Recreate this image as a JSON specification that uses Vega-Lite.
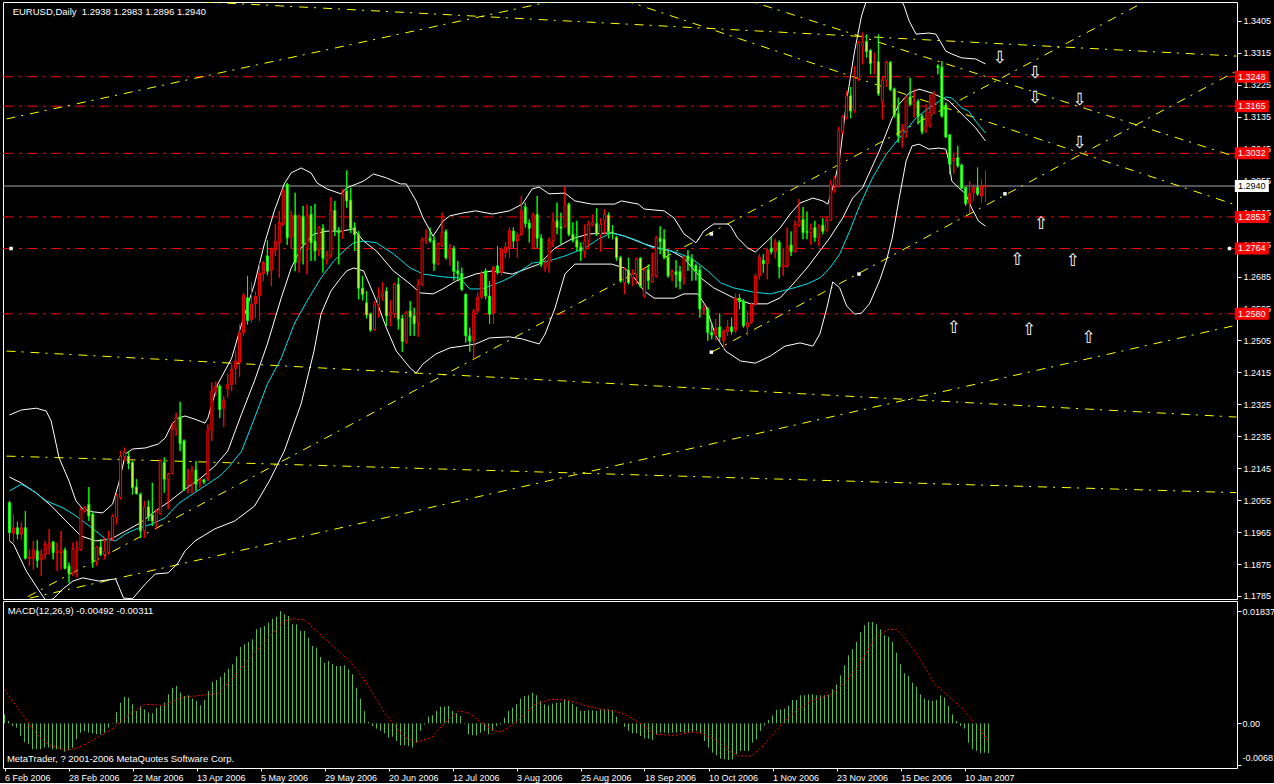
{
"$schema":"https://vega.github.io/schema/vega-lite/v6.json",
"background":"#000000",
"padding":{"left":2,"top":1,"right":0,"bottom":0},
"spacing":2,
"bounds":"flush",
"config":{
"view":{"stroke":"#ffffff","strokeWidth":1},
"text":{"font":"Liberation Sans","fontSize":9.5,"color":"#ffffff"}
},
"datasets":{
"bars":[
{"i":0,"o":1.2048,"h":1.2053,"l":1.1940,"c":1.1963,"m":0.00147},
{"i":1,"o":1.1961,"h":1.2015,"l":1.1935,"c":1.1977,"m":0.00038},
{"i":2,"o":1.1977,"h":1.1994,"l":1.1945,"c":1.1959,"m":-0.00044},
{"i":3,"o":1.1959,"h":1.1994,"l":1.1945,"c":1.1977,"m":-0.00071},
{"i":4,"o":1.1977,"h":1.2024,"l":1.1888,"c":1.1891,"m":-0.00207},
{"i":5,"o":1.1891,"h":1.1916,"l":1.1869,"c":1.1895,"m":-0.00305},
{"i":6,"o":1.1891,"h":1.1940,"l":1.1860,"c":1.1915,"m":-0.00344},
{"i":7,"o":1.1912,"h":1.1942,"l":1.1865,"c":1.1885,"m":-0.00425},
{"i":8,"o":1.1887,"h":1.1916,"l":1.1841,"c":1.1902,"m":-0.00425},
{"i":9,"o":1.1902,"h":1.1940,"l":1.1888,"c":1.1930,"m":-0.00425},
{"i":10,"o":1.1923,"h":1.1973,"l":1.1902,"c":1.1934,"m":-0.00398},
{"i":11,"o":1.1937,"h":1.1940,"l":1.1888,"c":1.1907,"m":-0.00398},
{"i":12,"o":1.1907,"h":1.1935,"l":1.1855,"c":1.1912,"m":-0.00425},
{"i":13,"o":1.1907,"h":1.1968,"l":1.1860,"c":1.1915,"m":-0.00425},
{"i":14,"o":1.1914,"h":1.1921,"l":1.1860,"c":1.1863,"m":-0.00425},
{"i":15,"o":1.1869,"h":1.1879,"l":1.1822,"c":1.1848,"m":-0.00464},
{"i":16,"o":1.1848,"h":1.1935,"l":1.1841,"c":1.1916,"m":-0.00436},
{"i":17,"o":1.1915,"h":1.1940,"l":1.1837,"c":1.1921,"m":-0.00398},
{"i":18,"o":1.1916,"h":1.2034,"l":1.1912,"c":1.2029,"m":-0.00262},
{"i":19,"o":1.2024,"h":1.2038,"l":1.2020,"c":1.2034,"m":-0.00153},
{"i":20,"o":1.2043,"h":1.2092,"l":1.1996,"c":1.2010,"m":-0.00125},
{"i":21,"o":1.2015,"h":1.2020,"l":1.1865,"c":1.1883,"m":-0.00153},
{"i":22,"o":1.1881,"h":1.1926,"l":1.1869,"c":1.1923,"m":-0.00164},
{"i":23,"o":1.1923,"h":1.1945,"l":1.1898,"c":1.1902,"m":-0.00180},
{"i":24,"o":1.1902,"h":1.1949,"l":1.1888,"c":1.1912,"m":-0.00180},
{"i":25,"o":1.1907,"h":1.1968,"l":1.1902,"c":1.1947,"m":-0.00153},
{"i":26,"o":1.1949,"h":1.2015,"l":1.1940,"c":1.2010,"m":-0.00071},
{"i":27,"o":1.2006,"h":1.2073,"l":1.1987,"c":1.2067,"m":0.00005},
{"i":28,"o":1.2062,"h":1.2193,"l":1.2057,"c":1.2179,"m":0.00185},
{"i":29,"o":1.2177,"h":1.2203,"l":1.2165,"c":1.2189,"m":0.00338},
{"i":30,"o":1.2179,"h":1.2193,"l":1.2142,"c":1.2158,"m":0.00431},
{"i":31,"o":1.2161,"h":1.2165,"l":1.2071,"c":1.2090,"m":0.00420},
{"i":32,"o":1.2092,"h":1.2114,"l":1.2071,"c":1.2073,"m":0.00311},
{"i":33,"o":1.2071,"h":1.2076,"l":1.1949,"c":1.1968,"m":0.00202},
{"i":34,"o":1.1968,"h":1.2053,"l":1.1949,"c":1.2036,"m":0.00284},
{"i":35,"o":1.2036,"h":1.2054,"l":1.1996,"c":1.2007,"m":0.00229},
{"i":36,"o":1.2013,"h":1.2104,"l":1.1982,"c":1.1996,"m":0.00174},
{"i":37,"o":1.1996,"h":1.2029,"l":1.1973,"c":1.2022,"m":0.00164},
{"i":38,"o":1.2017,"h":1.2170,"l":1.2015,"c":1.2165,"m":0.00256},
{"i":39,"o":1.2161,"h":1.2175,"l":1.2076,"c":1.2114,"m":0.00284},
{"i":40,"o":1.2114,"h":1.2132,"l":1.2029,"c":1.2128,"m":0.00338},
{"i":41,"o":1.2130,"h":1.2273,"l":1.2128,"c":1.2254,"m":0.00474},
{"i":42,"o":1.2254,"h":1.2301,"l":1.2236,"c":1.2287,"m":0.00583},
{"i":43,"o":1.2289,"h":1.2332,"l":1.2193,"c":1.2214,"m":0.00611},
{"i":44,"o":1.2222,"h":1.2226,"l":1.2081,"c":1.2085,"m":0.00502},
{"i":45,"o":1.2100,"h":1.2143,"l":1.2075,"c":1.2112,"m":0.00447},
{"i":46,"o":1.2100,"h":1.2151,"l":1.2075,"c":1.2137,"m":0.00458},
{"i":47,"o":1.2140,"h":1.2165,"l":1.2081,"c":1.2100,"m":0.00404},
{"i":48,"o":1.2106,"h":1.2117,"l":1.2090,"c":1.2112,"m":0.00365},
{"i":49,"o":1.2112,"h":1.2115,"l":1.2100,"c":1.2106,"m":0.00294},
{"i":50,"o":1.2115,"h":1.2269,"l":1.2109,"c":1.2253,"m":0.00382},
{"i":51,"o":1.2252,"h":1.2386,"l":1.2222,"c":1.2362,"m":0.00529},
{"i":52,"o":1.2362,"h":1.2389,"l":1.2348,"c":1.2374,"m":0.00676},
{"i":53,"o":1.2376,"h":1.2381,"l":1.2287,"c":1.2310,"m":0.00709},
{"i":54,"o":1.2314,"h":1.2348,"l":1.2261,"c":1.2336,"m":0.00763},
{"i":55,"o":1.2368,"h":1.2411,"l":1.2344,"c":1.2381,"m":0.00829},
{"i":56,"o":1.2381,"h":1.2438,"l":1.2362,"c":1.2423,"m":0.00894},
{"i":57,"o":1.2426,"h":1.2475,"l":1.2381,"c":1.2447,"m":0.00965},
{"i":58,"o":1.2442,"h":1.2550,"l":1.2402,"c":1.2527,"m":0.01091},
{"i":59,"o":1.2527,"h":1.2639,"l":1.2517,"c":1.2633,"m":0.01249},
{"i":60,"o":1.2625,"h":1.2686,"l":1.2550,"c":1.2561,"m":0.01292},
{"i":61,"o":1.2564,"h":1.2668,"l":1.2555,"c":1.2607,"m":0.01331},
{"i":62,"o":1.2608,"h":1.2644,"l":1.2569,"c":1.2629,"m":0.01374},
{"i":63,"o":1.2630,"h":1.2723,"l":1.2560,"c":1.2695,"m":0.01538},
{"i":64,"o":1.2693,"h":1.2729,"l":1.2672,"c":1.2725,"m":0.01565},
{"i":65,"o":1.2743,"h":1.2787,"l":1.2689,"c":1.2700,"m":0.01592},
{"i":66,"o":1.2702,"h":1.2766,"l":1.2658,"c":1.2761,"m":0.01647},
{"i":67,"o":1.2759,"h":1.2832,"l":1.2743,"c":1.2783,"m":0.01712},
{"i":68,"o":1.2780,"h":1.2870,"l":1.2682,"c":1.2837,"m":0.01745},
{"i":69,"o":1.2832,"h":1.2935,"l":1.2827,"c":1.2928,"m":0.01837},
{"i":70,"o":1.2945,"h":1.2949,"l":1.2774,"c":1.2794,"m":0.01783},
{"i":71,"o":1.2796,"h":1.2870,"l":1.2766,"c":1.2858,"m":0.01756},
{"i":72,"o":1.2858,"h":1.2921,"l":1.2700,"c":1.2724,"m":0.01620},
{"i":73,"o":1.2724,"h":1.2860,"l":1.2696,"c":1.2855,"m":0.01620},
{"i":74,"o":1.2855,"h":1.2884,"l":1.2719,"c":1.2776,"m":0.01511},
{"i":75,"o":1.2761,"h":1.2888,"l":1.2691,"c":1.2858,"m":0.01511},
{"i":76,"o":1.2860,"h":1.2884,"l":1.2729,"c":1.2780,"m":0.01401},
{"i":77,"o":1.2785,"h":1.2890,"l":1.2729,"c":1.2757,"m":0.01265},
{"i":78,"o":1.2759,"h":1.2827,"l":1.2743,"c":1.2824,"m":0.01238},
{"i":79,"o":1.2821,"h":1.2832,"l":1.2696,"c":1.2736,"m":0.01085},
{"i":80,"o":1.2731,"h":1.2757,"l":1.2719,"c":1.2746,"m":0.00992},
{"i":81,"o":1.2746,"h":1.2909,"l":1.2738,"c":1.2871,"m":0.01020},
{"i":82,"o":1.2871,"h":1.2898,"l":1.2799,"c":1.2815,"m":0.00965},
{"i":83,"o":1.2813,"h":1.2824,"l":1.2719,"c":1.2808,"m":0.00938},
{"i":84,"o":1.2813,"h":1.2931,"l":1.2792,"c":1.2916,"m":0.00938},
{"i":85,"o":1.2926,"h":1.2984,"l":1.2879,"c":1.2898,"m":0.00949},
{"i":86,"o":1.2900,"h":1.2935,"l":1.2808,"c":1.2821,"m":0.00883},
{"i":87,"o":1.2823,"h":1.2837,"l":1.2757,"c":1.2802,"m":0.00802},
{"i":88,"o":1.2804,"h":1.2813,"l":1.2621,"c":1.2652,"m":0.00583},
{"i":89,"o":1.2652,"h":1.2687,"l":1.2618,"c":1.2635,"m":0.00404},
{"i":90,"o":1.2611,"h":1.2644,"l":1.2567,"c":1.2577,"m":0.00202},
{"i":91,"o":1.2579,"h":1.2583,"l":1.2530,"c":1.2534,"m":0.00022},
{"i":92,"o":1.2536,"h":1.2616,"l":1.2532,"c":1.2605,"m":-0.00044},
{"i":93,"o":1.2605,"h":1.2654,"l":1.2569,"c":1.2627,"m":-0.00087},
{"i":94,"o":1.2630,"h":1.2668,"l":1.2616,"c":1.2637,"m":-0.00125},
{"i":95,"o":1.2644,"h":1.2654,"l":1.2546,"c":1.2574,"m":-0.00164},
{"i":96,"o":1.2574,"h":1.2618,"l":1.2546,"c":1.2583,"m":-0.00234},
{"i":97,"o":1.2579,"h":1.2668,"l":1.2569,"c":1.2663,"m":-0.00218},
{"i":98,"o":1.2663,"h":1.2682,"l":1.2536,"c":1.2565,"m":-0.00289},
{"i":99,"o":1.2567,"h":1.2577,"l":1.2473,"c":1.2502,"m":-0.00360},
{"i":100,"o":1.2503,"h":1.2588,"l":1.2496,"c":1.2583,"m":-0.00360},
{"i":101,"o":1.2588,"h":1.2616,"l":1.2518,"c":1.2571,"m":-0.00371},
{"i":102,"o":1.2574,"h":1.2597,"l":1.2518,"c":1.2552,"m":-0.00398},
{"i":103,"o":1.2555,"h":1.2677,"l":1.2515,"c":1.2663,"m":-0.00316},
{"i":104,"o":1.2663,"h":1.2795,"l":1.2658,"c":1.2787,"m":-0.00125},
{"i":105,"o":1.2786,"h":1.2818,"l":1.2776,"c":1.2792,"m":-0.00020},
{"i":106,"o":1.2793,"h":1.2823,"l":1.2781,"c":1.2786,"m":0.00109},
{"i":107,"o":1.2787,"h":1.2799,"l":1.2701,"c":1.2721,"m":0.00131},
{"i":108,"o":1.2721,"h":1.2781,"l":1.2718,"c":1.2776,"m":0.00202},
{"i":109,"o":1.2771,"h":1.2865,"l":1.2768,"c":1.2809,"m":0.00273},
{"i":110,"o":1.2812,"h":1.2818,"l":1.2733,"c":1.2738,"m":0.00273},
{"i":111,"o":1.2738,"h":1.2776,"l":1.2715,"c":1.2764,"m":0.00284},
{"i":112,"o":1.2764,"h":1.2771,"l":1.2674,"c":1.2699,"m":0.00202},
{"i":113,"o":1.2701,"h":1.2729,"l":1.2674,"c":1.2693,"m":0.00164},
{"i":114,"o":1.2693,"h":1.2710,"l":1.2644,"c":1.2649,"m":0.00120},
{"i":115,"o":1.2635,"h":1.2637,"l":1.2499,"c":1.2518,"m":-0.00010},
{"i":116,"o":1.2518,"h":1.2541,"l":1.2473,"c":1.2503,"m":-0.00180},
{"i":117,"o":1.2505,"h":1.2593,"l":1.2455,"c":1.2588,"m":-0.00196},
{"i":118,"o":1.2588,"h":1.2640,"l":1.2583,"c":1.2627,"m":-0.00196},
{"i":119,"o":1.2627,"h":1.2701,"l":1.2621,"c":1.2693,"m":-0.00153},
{"i":120,"o":1.2701,"h":1.2708,"l":1.2621,"c":1.2630,"m":-0.00125},
{"i":121,"o":1.2630,"h":1.2672,"l":1.2552,"c":1.2579,"m":-0.00180},
{"i":122,"o":1.2581,"h":1.2715,"l":1.2552,"c":1.2712,"m":-0.00125},
{"i":123,"o":1.2715,"h":1.2771,"l":1.2691,"c":1.2696,"m":-0.00044},
{"i":124,"o":1.2696,"h":1.2766,"l":1.2687,"c":1.2762,"m":-0.00020},
{"i":125,"o":1.2752,"h":1.2781,"l":1.2738,"c":1.2768,"m":0.00093},
{"i":126,"o":1.2764,"h":1.2823,"l":1.2738,"c":1.2815,"m":0.00202},
{"i":127,"o":1.2813,"h":1.2823,"l":1.2766,"c":1.2785,"m":0.00256},
{"i":128,"o":1.2785,"h":1.2809,"l":1.2738,"c":1.2802,"m":0.00311},
{"i":129,"o":1.2802,"h":1.2912,"l":1.2799,"c":1.2872,"m":0.00404},
{"i":130,"o":1.2881,"h":1.2893,"l":1.2823,"c":1.2834,"m":0.00447},
{"i":131,"o":1.2836,"h":1.2846,"l":1.2781,"c":1.2821,"m":0.00458},
{"i":132,"o":1.2766,"h":1.2865,"l":1.2762,"c":1.2860,"m":0.00502},
{"i":133,"o":1.2860,"h":1.2912,"l":1.2766,"c":1.2793,"m":0.00458},
{"i":134,"o":1.2793,"h":1.2804,"l":1.2712,"c":1.2719,"m":0.00365},
{"i":135,"o":1.2712,"h":1.2734,"l":1.2699,"c":1.2724,"m":0.00311},
{"i":136,"o":1.2724,"h":1.2795,"l":1.2696,"c":1.2785,"m":0.00294},
{"i":137,"o":1.2785,"h":1.2865,"l":1.2768,"c":1.2842,"m":0.00322},
{"i":138,"o":1.2842,"h":1.2893,"l":1.2804,"c":1.2823,"m":0.00338},
{"i":139,"o":1.2825,"h":1.2865,"l":1.2776,"c":1.2821,"m":0.00338},
{"i":140,"o":1.2825,"h":1.2940,"l":1.2823,"c":1.2887,"m":0.00392},
{"i":141,"o":1.2889,"h":1.2893,"l":1.2799,"c":1.2804,"m":0.00365},
{"i":142,"o":1.2804,"h":1.2837,"l":1.2781,"c":1.2787,"m":0.00322},
{"i":143,"o":1.2787,"h":1.2842,"l":1.2757,"c":1.2768,"m":0.00273},
{"i":144,"o":1.2768,"h":1.2781,"l":1.2729,"c":1.2757,"m":0.00202},
{"i":145,"o":1.2755,"h":1.2832,"l":1.2738,"c":1.2785,"m":0.00202},
{"i":146,"o":1.2785,"h":1.2842,"l":1.2762,"c":1.2832,"m":0.00213},
{"i":147,"o":1.2830,"h":1.2860,"l":1.2827,"c":1.2837,"m":0.00213},
{"i":148,"o":1.2834,"h":1.2877,"l":1.2799,"c":1.2804,"m":0.00202},
{"i":149,"o":1.2802,"h":1.2849,"l":1.2755,"c":1.2832,"m":0.00229},
{"i":150,"o":1.2842,"h":1.2874,"l":1.2804,"c":1.2860,"m":0.00229},
{"i":151,"o":1.2858,"h":1.2865,"l":1.2793,"c":1.2811,"m":0.00229},
{"i":152,"o":1.2811,"h":1.2830,"l":1.2790,"c":1.2806,"m":0.00213},
{"i":153,"o":1.2795,"h":1.2799,"l":1.2729,"c":1.2738,"m":0.00109},
{"i":154,"o":1.2738,"h":1.2743,"l":1.2668,"c":1.2672,"m":-0.00005},
{"i":155,"o":1.2668,"h":1.2710,"l":1.2635,"c":1.2705,"m":-0.00060},
{"i":156,"o":1.2703,"h":1.2738,"l":1.2663,"c":1.2668,"m":-0.00125},
{"i":157,"o":1.2682,"h":1.2705,"l":1.2658,"c":1.2691,"m":-0.00164},
{"i":158,"o":1.2691,"h":1.2738,"l":1.2663,"c":1.2734,"m":-0.00164},
{"i":159,"o":1.2736,"h":1.2740,"l":1.2654,"c":1.2658,"m":-0.00207},
{"i":160,"o":1.2630,"h":1.2710,"l":1.2626,"c":1.2703,"m":-0.00251},
{"i":161,"o":1.2705,"h":1.2719,"l":1.2649,"c":1.2674,"m":-0.00251},
{"i":162,"o":1.2671,"h":1.2752,"l":1.2668,"c":1.2687,"m":-0.00273},
{"i":163,"o":1.2687,"h":1.2799,"l":1.2682,"c":1.2793,"m":-0.00180},
{"i":164,"o":1.2793,"h":1.2827,"l":1.2748,"c":1.2783,"m":-0.00153},
{"i":165,"o":1.2790,"h":1.2818,"l":1.2734,"c":1.2740,"m":-0.00153},
{"i":166,"o":1.2740,"h":1.2757,"l":1.2682,"c":1.2687,"m":-0.00164},
{"i":167,"o":1.2687,"h":1.2705,"l":1.2672,"c":1.2699,"m":-0.00153},
{"i":168,"o":1.2699,"h":1.2731,"l":1.2654,"c":1.2690,"m":-0.00153},
{"i":169,"o":1.2699,"h":1.2715,"l":1.2649,"c":1.2672,"m":-0.00142},
{"i":170,"o":1.2680,"h":1.2743,"l":1.2663,"c":1.2738,"m":-0.00153},
{"i":171,"o":1.2743,"h":1.2759,"l":1.2701,"c":1.2731,"m":-0.00142},
{"i":172,"o":1.2734,"h":1.2748,"l":1.2673,"c":1.2712,"m":-0.00142},
{"i":173,"o":1.2715,"h":1.2721,"l":1.2674,"c":1.2699,"m":-0.00125},
{"i":174,"o":1.2703,"h":1.2715,"l":1.2569,"c":1.2593,"m":-0.00164},
{"i":175,"o":1.2590,"h":1.2607,"l":1.2579,"c":1.2596,"m":-0.00289},
{"i":176,"o":1.2593,"h":1.2599,"l":1.2504,"c":1.2527,"m":-0.00398},
{"i":177,"o":1.2527,"h":1.2555,"l":1.2508,"c":1.2520,"m":-0.00480},
{"i":178,"o":1.2520,"h":1.2565,"l":1.2504,"c":1.2539,"m":-0.00523},
{"i":179,"o":1.2543,"h":1.2581,"l":1.2502,"c":1.2515,"m":-0.00578},
{"i":180,"o":1.2504,"h":1.2536,"l":1.2480,"c":1.2532,"m":-0.00589},
{"i":181,"o":1.2530,"h":1.2562,"l":1.2518,"c":1.2543,"m":-0.00600},
{"i":182,"o":1.2543,"h":1.2569,"l":1.2522,"c":1.2530,"m":-0.00589},
{"i":183,"o":1.2532,"h":1.2637,"l":1.2527,"c":1.2624,"m":-0.00507},
{"i":184,"o":1.2624,"h":1.2635,"l":1.2593,"c":1.2614,"m":-0.00452},
{"i":185,"o":1.2616,"h":1.2621,"l":1.2541,"c":1.2546,"m":-0.00452},
{"i":186,"o":1.2543,"h":1.2588,"l":1.2518,"c":1.2555,"m":-0.00452},
{"i":187,"o":1.2555,"h":1.2612,"l":1.2551,"c":1.2607,"m":-0.00316},
{"i":188,"o":1.2607,"h":1.2693,"l":1.2602,"c":1.2687,"m":-0.00262},
{"i":189,"o":1.2687,"h":1.2748,"l":1.2677,"c":1.2740,"m":-0.00125},
{"i":190,"o":1.2731,"h":1.2748,"l":1.2696,"c":1.2721,"m":-0.00033},
{"i":191,"o":1.2721,"h":1.2766,"l":1.2677,"c":1.2759,"m":0.00055},
{"i":192,"o":1.2764,"h":1.2797,"l":1.2748,"c":1.2755,"m":0.00131},
{"i":193,"o":1.2755,"h":1.2790,"l":1.2736,"c":1.2783,"m":0.00218},
{"i":194,"o":1.2781,"h":1.2787,"l":1.2680,"c":1.2712,"m":0.00229},
{"i":195,"o":1.2712,"h":1.2766,"l":1.2687,"c":1.2718,"m":0.00240},
{"i":196,"o":1.2715,"h":1.2823,"l":1.2710,"c":1.2771,"m":0.00284},
{"i":197,"o":1.2774,"h":1.2812,"l":1.2743,"c":1.2755,"m":0.00382},
{"i":198,"o":1.2755,"h":1.2843,"l":1.2752,"c":1.2832,"m":0.00382},
{"i":199,"o":1.2830,"h":1.2903,"l":1.2825,"c":1.2844,"m":0.00458},
{"i":200,"o":1.2846,"h":1.2881,"l":1.2790,"c":1.2809,"m":0.00458},
{"i":201,"o":1.2812,"h":1.2868,"l":1.2790,"c":1.2809,"m":0.00474},
{"i":202,"o":1.2809,"h":1.2834,"l":1.2774,"c":1.2821,"m":0.00474},
{"i":203,"o":1.2823,"h":1.2842,"l":1.2783,"c":1.2795,"m":0.00458},
{"i":204,"o":1.2795,"h":1.2832,"l":1.2771,"c":1.2825,"m":0.00458},
{"i":205,"o":1.2830,"h":1.2849,"l":1.2804,"c":1.2812,"m":0.00458},
{"i":206,"o":1.2815,"h":1.2853,"l":1.2812,"c":1.2843,"m":0.00469},
{"i":207,"o":1.2843,"h":1.2956,"l":1.2842,"c":1.2945,"m":0.00556},
{"i":208,"o":1.2940,"h":1.2968,"l":1.2921,"c":1.2962,"m":0.00638},
{"i":209,"o":1.2940,"h":1.3106,"l":1.2936,"c":1.3097,"m":0.00785},
{"i":210,"o":1.3093,"h":1.3140,"l":1.3086,"c":1.3135,"m":0.00949},
{"i":211,"o":1.3133,"h":1.3208,"l":1.3128,"c":1.3194,"m":0.01112},
{"i":212,"o":1.3194,"h":1.3219,"l":1.3131,"c":1.3151,"m":0.01210},
{"i":213,"o":1.3153,"h":1.3278,"l":1.3147,"c":1.3243,"m":0.01330},
{"i":214,"o":1.3243,"h":1.3349,"l":1.3236,"c":1.3341,"m":0.01494},
{"i":215,"o":1.3335,"h":1.3372,"l":1.3283,"c":1.3344,"m":0.01603},
{"i":216,"o":1.3347,"h":1.3367,"l":1.3302,"c":1.3319,"m":0.01657},
{"i":217,"o":1.3322,"h":1.3325,"l":1.3255,"c":1.3285,"m":0.01657},
{"i":218,"o":1.3288,"h":1.3316,"l":1.3255,"c":1.3292,"m":0.01619},
{"i":219,"o":1.3290,"h":1.3367,"l":1.3194,"c":1.3200,"m":0.01537},
{"i":220,"o":1.3178,"h":1.3250,"l":1.3128,"c":1.3238,"m":0.01439},
{"i":221,"o":1.3238,"h":1.3292,"l":1.3219,"c":1.3288,"m":0.01417},
{"i":222,"o":1.3288,"h":1.3292,"l":1.3208,"c":1.3213,"m":0.01330},
{"i":223,"o":1.3213,"h":1.3217,"l":1.3133,"c":1.3140,"m":0.01155},
{"i":224,"o":1.3144,"h":1.3189,"l":1.3062,"c":1.3081,"m":0.00965},
{"i":225,"o":1.3081,"h":1.3114,"l":1.3048,"c":1.3095,"m":0.00818},
{"i":226,"o":1.3095,"h":1.3194,"l":1.3076,"c":1.3191,"m":0.00774},
{"i":227,"o":1.3191,"h":1.3245,"l":1.3166,"c":1.3170,"m":0.00665},
{"i":228,"o":1.3170,"h":1.3213,"l":1.3133,"c":1.3178,"m":0.00600},
{"i":229,"o":1.3178,"h":1.3184,"l":1.3114,"c":1.3137,"m":0.00474},
{"i":230,"o":1.3137,"h":1.3142,"l":1.3086,"c":1.3093,"m":0.00404},
{"i":231,"o":1.3095,"h":1.3170,"l":1.3090,"c":1.3109,"m":0.00382},
{"i":232,"o":1.3109,"h":1.3198,"l":1.3105,"c":1.3147,"m":0.00365},
{"i":233,"o":1.3147,"h":1.3208,"l":1.3142,"c":1.3200,"m":0.00382},
{"i":234,"o":1.3278,"h":1.3283,"l":1.3255,"c":1.3274,"m":0.00458},
{"i":235,"o":1.3275,"h":1.3292,"l":1.3133,"c":1.3137,"m":0.00420},
{"i":236,"o":1.3168,"h":1.3175,"l":1.3076,"c":1.3078,"m":0.00284},
{"i":237,"o":1.3084,"h":1.3086,"l":1.2973,"c":1.3001,"m":0.00147},
{"i":238,"o":1.3011,"h":1.3034,"l":1.2975,"c":1.3018,"m":0.00038},
{"i":239,"o":1.3020,"h":1.3053,"l":1.2992,"c":1.2997,"m":-0.00044},
{"i":240,"o":1.2999,"h":1.3003,"l":1.2931,"c":1.2934,"m":-0.00087},
{"i":241,"o":1.2936,"h":1.2937,"l":1.2884,"c":1.2890,"m":-0.00316},
{"i":242,"o":1.2890,"h":1.2954,"l":1.2862,"c":1.2919,"m":-0.00425},
{"i":243,"o":1.2921,"h":1.2945,"l":1.2898,"c":1.2936,"m":-0.00452},
{"i":244,"o":1.2936,"h":1.2992,"l":1.2912,"c":1.2917,"m":-0.00490},
{"i":245,"o":1.2912,"h":1.2959,"l":1.2893,"c":1.2940,"m":-0.00480},
{"i":246,"o":1.2938,"h":1.2983,"l":1.2896,"c":1.2940,"m":-0.00492}
],
"bands":[
{"s":"ub","i":0,"p":1.2295},{"s":"ub","i":3,"p":1.2309},{"s":"ub","i":6.75,"p":1.2314},{"s":"ub","i":9.25,"p":1.2306},{"s":"ub","i":10.5,"p":1.2278},{"s":"ub","i":12.5,"p":1.2174},{"s":"ub","i":15,"p":1.2109},{"s":"ub","i":16.75,"p":1.2053},{"s":"ub","i":18.5,"p":1.2030},{"s":"ub","i":21,"p":1.2022},{"s":"ub","i":23.5,"p":1.2019},{"s":"ub","i":26,"p":1.2044},{"s":"ub","i":27.5,"p":1.2101},{"s":"ub","i":29.25,"p":1.2185},{"s":"ub","i":31,"p":1.2199},{"s":"ub","i":34.25,"p":1.2202},{"s":"ub","i":37.5,"p":1.2213},{"s":"ub","i":39.25,"p":1.2230},{"s":"ub","i":41,"p":1.2270},{"s":"ub","i":42.5,"p":1.2286},{"s":"ub","i":44.25,"p":1.2292},{"s":"ub","i":46.75,"p":1.2283},{"s":"ub","i":49.25,"p":1.2272},{"s":"ub","i":50,"p":1.2286},{"s":"ub","i":52.5,"p":1.2382},{"s":"ub","i":56,"p":1.2455},{"s":"ub","i":58.5,"p":1.2551},{"s":"ub","i":61.75,"p":1.2664},{"s":"ub","i":64.25,"p":1.2777},{"s":"ub","i":66.75,"p":1.2870},{"s":"ub","i":69.25,"p":1.2946},{"s":"ub","i":71,"p":1.2977},{"s":"ub","i":73.5,"p":1.2991},{"s":"ub","i":76,"p":1.2977},{"s":"ub","i":77.5,"p":1.2949},{"s":"ub","i":80,"p":1.2932},{"s":"ub","i":83.5,"p":1.2918},{"s":"ub","i":85,"p":1.2935},{"s":"ub","i":87.5,"p":1.2946},{"s":"ub","i":89.25,"p":1.2954},{"s":"ub","i":91.75,"p":1.2974},{"s":"ub","i":95,"p":1.2963},{"s":"ub","i":98.5,"p":1.2946},{"s":"ub","i":100,"p":1.2946},{"s":"ub","i":102.5,"p":1.2898},{"s":"ub","i":104.25,"p":1.2850},{"s":"ub","i":106.75,"p":1.2799},{"s":"ub","i":109.25,"p":1.2841},{"s":"ub","i":111,"p":1.2856},{"s":"ub","i":114.25,"p":1.2864},{"s":"ub","i":117.5,"p":1.2870},{"s":"ub","i":121.75,"p":1.2861},{"s":"ub","i":126,"p":1.2870},{"s":"ub","i":129.25,"p":1.2889},{"s":"ub","i":131.75,"p":1.2932},{"s":"ub","i":133.5,"p":1.2937},{"s":"ub","i":136,"p":1.2918},{"s":"ub","i":140,"p":1.2920},{"s":"ub","i":142.5,"p":1.2898},{"s":"ub","i":146.75,"p":1.2889},{"s":"ub","i":152.5,"p":1.2889},{"s":"ub","i":154.25,"p":1.2898},{"s":"ub","i":158.5,"p":1.2889},{"s":"ub","i":160,"p":1.2875},{"s":"ub","i":165,"p":1.2870},{"s":"ub","i":167.5,"p":1.2850},{"s":"ub","i":170,"p":1.2805},{"s":"ub","i":171.75,"p":1.2791},{"s":"ub","i":173,"p":1.2780},{"s":"ub","i":175,"p":1.2813},{"s":"ub","i":177.5,"p":1.2833},{"s":"ub","i":181,"p":1.2833},{"s":"ub","i":181.75,"p":1.2827},{"s":"ub","i":183.5,"p":1.2794},{"s":"ub","i":186,"p":1.2766},{"s":"ub","i":188,"p":1.2754},{"s":"ub","i":191,"p":1.2785},{"s":"ub","i":194.25,"p":1.2822},{"s":"ub","i":196.75,"p":1.2861},{"s":"ub","i":199.25,"p":1.2892},{"s":"ub","i":202.5,"p":1.2906},{"s":"ub","i":205,"p":1.2898},{"s":"ub","i":206.25,"p":1.2889},{"s":"ub","i":208,"p":1.2954},{"s":"ub","i":209.25,"p":1.3019},{"s":"ub","i":211,"p":1.3180},{"s":"ub","i":213,"p":1.3320},{"s":"ub","i":214.75,"p":1.3419},{"s":"ub","i":216.75,"p":1.3490},{"s":"ub","i":219.25,"p":1.3532},{"s":"ub","i":223,"p":1.3504},{"s":"ub","i":225.5,"p":1.3447},{"s":"ub","i":226.75,"p":1.3405},{"s":"ub","i":228.5,"p":1.3368},{"s":"ub","i":231.75,"p":1.3371},{"s":"ub","i":233.5,"p":1.3368},{"s":"ub","i":236,"p":1.3320},{"s":"ub","i":237.5,"p":1.3312},{"s":"ub","i":240,"p":1.3301},{"s":"ub","i":243.5,"p":1.3298},{"s":"ub","i":246,"p":1.3284},
{"s":"lb","i":0,"p":1.1940},{"s":"lb","i":1,"p":1.1931},{"s":"lb","i":4.25,"p":1.1855},{"s":"lb","i":7.5,"p":1.1799},{"s":"lb","i":9.25,"p":1.1771},{"s":"lb","i":11,"p":1.1777},{"s":"lb","i":13.5,"p":1.1805},{"s":"lb","i":16,"p":1.1827},{"s":"lb","i":18.5,"p":1.1836},{"s":"lb","i":22.5,"p":1.1827},{"s":"lb","i":26.75,"p":1.1833},{"s":"lb","i":28.75,"p":1.1779},{"s":"lb","i":31,"p":1.1777},{"s":"lb","i":34.25,"p":1.1819},{"s":"lb","i":36.75,"p":1.1847},{"s":"lb","i":40,"p":1.1850},{"s":"lb","i":42.5,"p":1.1878},{"s":"lb","i":44.25,"p":1.1912},{"s":"lb","i":46.75,"p":1.1940},{"s":"lb","i":51.75,"p":1.1974},{"s":"lb","i":56.75,"p":1.1996},{"s":"lb","i":61.75,"p":1.2038},{"s":"lb","i":65.5,"p":1.2109},{"s":"lb","i":69.25,"p":1.2193},{"s":"lb","i":73.5,"p":1.2326},{"s":"lb","i":76.75,"p":1.2475},{"s":"lb","i":78.5,"p":1.2579},{"s":"lb","i":81,"p":1.2644},{"s":"lb","i":83.5,"p":1.2681},{"s":"lb","i":85,"p":1.2701},{"s":"lb","i":86.75,"p":1.2709},{"s":"lb","i":89.25,"p":1.2701},{"s":"lb","i":92.5,"p":1.2616},{"s":"lb","i":95,"p":1.2540},{"s":"lb","i":97.5,"p":1.2475},{"s":"lb","i":101,"p":1.2427},{"s":"lb","i":102.5,"p":1.2413},{"s":"lb","i":104.25,"p":1.2439},{"s":"lb","i":107.5,"p":1.2467},{"s":"lb","i":111,"p":1.2484},{"s":"lb","i":114.25,"p":1.2489},{"s":"lb","i":117.5,"p":1.2495},{"s":"lb","i":121,"p":1.2512},{"s":"lb","i":126,"p":1.2515},{"s":"lb","i":129.25,"p":1.2509},{"s":"lb","i":133.5,"p":1.2495},{"s":"lb","i":135,"p":1.2523},{"s":"lb","i":137.5,"p":1.2596},{"s":"lb","i":140,"p":1.2692},{"s":"lb","i":142.5,"p":1.2720},{"s":"lb","i":147.5,"p":1.2720},{"s":"lb","i":151.75,"p":1.2720},{"s":"lb","i":155,"p":1.2709},{"s":"lb","i":157.5,"p":1.2681},{"s":"lb","i":160,"p":1.2644},{"s":"lb","i":162.5,"p":1.2624},{"s":"lb","i":167.5,"p":1.2624},{"s":"lb","i":170,"p":1.2636},{"s":"lb","i":173.5,"p":1.2636},{"s":"lb","i":175.5,"p":1.2602},{"s":"lb","i":178,"p":1.2518},{"s":"lb","i":180.5,"p":1.2475},{"s":"lb","i":184.25,"p":1.2447},{"s":"lb","i":188,"p":1.2441},{"s":"lb","i":191.75,"p":1.2461},{"s":"lb","i":195.5,"p":1.2489},{"s":"lb","i":199.25,"p":1.2498},{"s":"lb","i":202.5,"p":1.2489},{"s":"lb","i":204.25,"p":1.2523},{"s":"lb","i":206,"p":1.2596},{"s":"lb","i":207.5,"p":1.2670},{"s":"lb","i":209.25,"p":1.2653},{"s":"lb","i":211,"p":1.2602},{"s":"lb","i":213,"p":1.2579},{"s":"lb","i":214.75,"p":1.2582},{"s":"lb","i":216.75,"p":1.2608},{"s":"lb","i":219.25,"p":1.2672},{"s":"lb","i":221,"p":1.2729},{"s":"lb","i":222.5,"p":1.2794},{"s":"lb","i":224.25,"p":1.2906},{"s":"lb","i":226,"p":1.3011},{"s":"lb","i":227.5,"p":1.3053},{"s":"lb","i":229.25,"p":1.3058},{"s":"lb","i":231.75,"p":1.3044},{"s":"lb","i":234.25,"p":1.3047},{"s":"lb","i":236,"p":1.3044},{"s":"lb","i":236.75,"p":1.3011},{"s":"lb","i":237.5,"p":1.2954},{"s":"lb","i":239.25,"p":1.2935},{"s":"lb","i":241,"p":1.2918},{"s":"lb","i":242.5,"p":1.2878},{"s":"lb","i":244.25,"p":1.2841},{"s":"lb","i":246,"p":1.2827},
{"s":"mid","i":0,"p":1.2120},{"s":"mid","i":3,"p":1.2103},{"s":"mid","i":6.75,"p":1.2075},{"s":"mid","i":10.5,"p":1.2039},{"s":"mid","i":14.25,"p":1.1996},{"s":"mid","i":18,"p":1.1954},{"s":"mid","i":21.75,"p":1.1940},{"s":"mid","i":25.5,"p":1.1945},{"s":"mid","i":29.25,"p":1.1968},{"s":"mid","i":33,"p":1.1991},{"s":"mid","i":36.75,"p":1.2024},{"s":"mid","i":40.5,"p":1.2053},{"s":"mid","i":44.25,"p":1.2086},{"s":"mid","i":48,"p":1.2115},{"s":"mid","i":51.75,"p":1.2151},{"s":"mid","i":55,"p":1.2193},{"s":"mid","i":58.5,"p":1.2298},{"s":"mid","i":61.75,"p":1.2391},{"s":"mid","i":65,"p":1.2495},{"s":"mid","i":68.5,"p":1.2625},{"s":"mid","i":71,"p":1.2709},{"s":"mid","i":73.5,"p":1.2765},{"s":"mid","i":76.75,"p":1.2805},{"s":"mid","i":80,"p":1.2813},{"s":"mid","i":83.5,"p":1.2813},{"s":"mid","i":86.75,"p":1.2819},{"s":"mid","i":89.25,"p":1.2785},{"s":"mid","i":92.5,"p":1.2757},{"s":"mid","i":96.75,"p":1.2701},{"s":"mid","i":101,"p":1.2664},{"s":"mid","i":103.5,"p":1.2639},{"s":"mid","i":106.75,"p":1.2636},{"s":"mid","i":109.25,"p":1.2650},{"s":"mid","i":112.5,"p":1.2672},{"s":"mid","i":117.5,"p":1.2692},{"s":"mid","i":121.75,"p":1.2701},{"s":"mid","i":126.75,"p":1.2692},{"s":"mid","i":133.5,"p":1.2720},{"s":"mid","i":137.5,"p":1.2765},{"s":"mid","i":141.75,"p":1.2791},{"s":"mid","i":146,"p":1.2805},{"s":"mid","i":151.75,"p":1.2808},{"s":"mid","i":155,"p":1.2799},{"s":"mid","i":160,"p":1.2777},{"s":"mid","i":163.5,"p":1.2765},{"s":"mid","i":166.75,"p":1.2757},{"s":"mid","i":170,"p":1.2737},{"s":"mid","i":174.25,"p":1.2681},{"s":"mid","i":177.5,"p":1.2653},{"s":"mid","i":182.5,"p":1.2625},{"s":"mid","i":186.75,"p":1.2608},{"s":"mid","i":191,"p":1.2608},{"s":"mid","i":194.25,"p":1.2625},{"s":"mid","i":197.5,"p":1.2664},{"s":"mid","i":201,"p":1.2709},{"s":"mid","i":204.25,"p":1.2757},{"s":"mid","i":206.75,"p":1.2794},{"s":"mid","i":210,"p":1.2850},{"s":"mid","i":212.5,"p":1.2906},{"s":"mid","i":215,"p":1.2935},{"s":"mid","i":219.25,"p":1.3039},{"s":"mid","i":222.5,"p":1.3132},{"s":"mid","i":224.25,"p":1.3171},{"s":"mid","i":226.75,"p":1.3202},{"s":"mid","i":229.25,"p":1.3213},{"s":"mid","i":232.5,"p":1.3202},{"s":"mid","i":236.75,"p":1.3180},{"s":"mid","i":238.5,"p":1.3160},{"s":"mid","i":241,"p":1.3132},{"s":"mid","i":243.5,"p":1.3104},{"s":"mid","i":246,"p":1.3067},
{"s":"ma","i":0,"p":1.2081},{"s":"ma","i":3,"p":1.2100},{"s":"ma","i":6,"p":1.2081},{"s":"ma","i":9.25,"p":1.2053},{"s":"ma","i":13.5,"p":1.2033},{"s":"ma","i":16,"p":1.2016},{"s":"ma","i":18.5,"p":1.1996},{"s":"ma","i":21.75,"p":1.1968},{"s":"ma","i":24.25,"p":1.1945},{"s":"ma","i":26.75,"p":1.1940},{"s":"ma","i":29.25,"p":1.1960},{"s":"ma","i":32.5,"p":1.1976},{"s":"ma","i":36,"p":1.1988},{"s":"ma","i":39.25,"p":1.2005},{"s":"ma","i":42.5,"p":1.2044},{"s":"ma","i":44.25,"p":1.2058},{"s":"ma","i":49.25,"p":1.2095},{"s":"ma","i":53,"p":1.2123},{"s":"ma","i":55.5,"p":1.2151},{"s":"ma","i":58.5,"p":1.2193},{"s":"ma","i":61.75,"p":1.2286},{"s":"ma","i":65,"p":1.2382},{"s":"ma","i":68.5,"p":1.2455},{"s":"ma","i":71.75,"p":1.2551},{"s":"ma","i":75,"p":1.2616},{"s":"ma","i":78.5,"p":1.2681},{"s":"ma","i":81.75,"p":1.2729},{"s":"ma","i":85,"p":1.2765},{"s":"ma","i":86.75,"p":1.2780},{"s":"ma","i":89.25,"p":1.2785},{"s":"ma","i":92.5,"p":1.2780},{"s":"ma","i":96.75,"p":1.2749},{"s":"ma","i":101,"p":1.2709},{"s":"ma","i":104.25,"p":1.2692},{"s":"ma","i":109.25,"p":1.2684},{"s":"ma","i":113.5,"p":1.2681},{"s":"ma","i":116,"p":1.2650},{"s":"ma","i":119.25,"p":1.2650},{"s":"ma","i":124.25,"p":1.2672},{"s":"ma","i":126.75,"p":1.2686},{"s":"ma","i":131.75,"p":1.2723},{"s":"ma","i":136,"p":1.2729},{"s":"ma","i":140,"p":1.2743},{"s":"ma","i":145,"p":1.2765},{"s":"ma","i":148.5,"p":1.2791},{"s":"ma","i":151.75,"p":1.2808},{"s":"ma","i":155,"p":1.2799},{"s":"ma","i":158.5,"p":1.2785},{"s":"ma","i":161.75,"p":1.2768},{"s":"ma","i":165,"p":1.2763},{"s":"ma","i":168.5,"p":1.2751},{"s":"ma","i":171.75,"p":1.2737},{"s":"ma","i":176,"p":1.2701},{"s":"ma","i":179.25,"p":1.2667},{"s":"ma","i":182.5,"p":1.2653},{"s":"ma","i":187.5,"p":1.2641},{"s":"ma","i":191.75,"p":1.2636},{"s":"ma","i":196.75,"p":1.2650},{"s":"ma","i":201,"p":1.2664},{"s":"ma","i":204.25,"p":1.2681},{"s":"ma","i":206.75,"p":1.2709},{"s":"ma","i":209.25,"p":1.2748},{"s":"ma","i":211.75,"p":1.2813},{"s":"ma","i":214.25,"p":1.2884},{"s":"ma","i":217.5,"p":1.2963},{"s":"ma","i":221,"p":1.3030},{"s":"ma","i":224.25,"p":1.3075},{"s":"ma","i":228.5,"p":1.3132},{"s":"ma","i":231.75,"p":1.3160},{"s":"ma","i":236,"p":1.3191},{"s":"ma","i":237.5,"p":1.3188},{"s":"ma","i":240,"p":1.3160},{"s":"ma","i":241.75,"p":1.3151},{"s":"ma","i":243.5,"p":1.3123},{"s":"ma","i":246,"p":1.3089}
],
"sig":[
{"i":0,"s":0.00556},{"i":1.75,"s":0.00392},{"i":4.25,"s":0.00174},{"i":6.75,"s":-0.00071},{"i":9.25,"s":-0.00262},{"i":11.75,"s":-0.00371},{"i":15.5,"s":-0.00441},{"i":18.5,"s":-0.00398},{"i":22.5,"s":-0.00262},{"i":26.75,"s":-0.00098},{"i":29.25,"s":0.00038},{"i":32.5,"s":0.00202},{"i":35,"s":0.00311},{"i":40,"s":0.00294},{"i":44.25,"s":0.0042},{"i":49.25,"s":0.00458},{"i":53.5,"s":0.00491},{"i":57.5,"s":0.00774},{"i":61.75,"s":0.01101},{"i":66,"s":0.01401},{"i":70,"s":0.01673},{"i":72.5,"s":0.01711},{"i":75,"s":0.0169},{"i":78.5,"s":0.01482},{"i":82.5,"s":0.01237},{"i":86.75,"s":0.00992},{"i":91,"s":0.0061},{"i":95,"s":0.00174},{"i":99.25,"s":-0.0018},{"i":102.5,"s":-0.00316},{"i":106.75,"s":-0.00234},{"i":110,"s":0},{"i":113.5,"s":0.00202},{"i":116,"s":0.00174},{"i":119.25,"s":0.0001},{"i":122.5,"s":-0.00125},{"i":124.25,"s":-0.0014},{"i":127.6,"s":0},{"i":132.6,"s":0.00311},{"i":136.75,"s":0.00392},{"i":140.9,"s":0.00382},{"i":145,"s":0.00294},{"i":149.25,"s":0.00229},{"i":152.6,"s":0.00202},{"i":155.9,"s":0.0012},{"i":159.25,"s":-0.00016},{"i":162.6,"s":-0.0018},{"i":167.6,"s":-0.00196},{"i":171.75,"s":-0.00142},{"i":174.25,"s":-0.00164},{"i":177.6,"s":-0.00262},{"i":180.9,"s":-0.00425},{"i":183.4,"s":-0.00534},{"i":186.75,"s":-0.00534},{"i":189.25,"s":-0.00398},{"i":191.75,"s":-0.00207},{"i":195,"s":0.00038},{"i":198.4,"s":0.00229},{"i":201.75,"s":0.00365},{"i":206.75,"s":0.00474},{"i":210.9,"s":0.0072},{"i":214.25,"s":0.01019},{"i":217.6,"s":0.01384},{"i":220.9,"s":0.01537},{"i":223,"s":0.01537},{"i":226,"s":0.01319},{"i":229.25,"s":0.01019},{"i":232.6,"s":0.00638},{"i":235.9,"s":0.00447},{"i":239.25,"s":0.00256},{"i":242.6,"s":0.0001},{"i":246,"s":-0.00311}
],
"tl":[
{"id":"A","i":-0.75,"p":1.3129},{"id":"A","i":149.25,"p":1.3491},
{"id":"B","i":36.75,"p":1.3466},{"id":"B","i":309.25,"p":1.3306},
{"id":"C","i":149.25,"p":1.3485},{"id":"C","i":309.25,"p":1.2886},
{"id":"D","i":-0.75,"p":1.1751},{"id":"D","i":289.25,"p":1.3478},
{"id":"E","i":184.25,"p":1.3470},{"id":"E","i":309.25,"p":1.3022},
{"id":"F","i":177,"p":1.2472},{"id":"F","i":309.25,"p":1.3264},
{"id":"G","i":-0.75,"p":1.1764},{"id":"G","i":309.25,"p":1.2548},
{"id":"H","i":-0.75,"p":1.2475},{"id":"H","i":309.25,"p":1.2289},
{"id":"I","i":-0.75,"p":1.2179},{"id":"I","i":309.25,"p":1.2076}
],
"hl":[{"p":1.3248},{"p":1.3165},{"p":1.3032},{"p":1.2853},{"p":1.2764},{"p":1.2580}],
"lv":[{"p":1.3248},{"p":1.3165},{"p":1.3032},{"p":1.2940},{"p":1.2853},{"p":1.2764},{"p":1.2580}],
"arr":[
{"i":249.6,"p":1.3301,"d":"dn","g":"w"},{"i":258.5,"p":1.3258,"d":"dn","g":"w"},{"i":258.5,"p":1.3188,"d":"dn","g":"c"},{"i":269.75,"p":1.3182,"d":"dn","g":"c"},{"i":269.75,"p":1.3061,"d":"dn","g":"w"},
{"i":260,"p":1.2833,"d":"up","g":"w"},{"i":254,"p":1.2732,"d":"up","g":"w"},{"i":268,"p":1.2729,"d":"up","g":"c"},{"i":238,"p":1.2540,"d":"up","g":"w"},{"i":257,"p":1.2534,"d":"up","g":"w"},{"i":272,"p":1.2512,"d":"up","g":"c"}
],
"mk":[{"i":0.4,"p":1.2764},{"i":307.5,"p":1.2764},{"i":176.9,"p":1.2805},{"i":176.9,"p":1.2472},{"i":214.1,"p":1.2692},{"i":250.9,"p":1.2918}],
"ttl":[{"t":"EURUSD,Daily\u00a0\u00a01.2938 1.2983 1.2896 1.2940"}],
"mt":[{"t":"MACD(12,26,9) -0.00492 -0.00311"}],
"cp":[{"t":"MetaTrader, ? 2001-2006 MetaQuotes Software Corp."}]
},
"vconcat":[
{"width":1234,"height":597,
"resolve":{"axis":{"x":"independent","y":"independent"}},
"layer":[
{"data":{"name":"bars"},"mark":{"type":"rule","strokeWidth":1,"clip":true},
"encoding":{"x":{"field":"i","type":"quantitative","scale":{"domain":[-0.375,308.125],"nice":false,"zero":false},"axis":null},
"y":{"field":"l","type":"quantitative","scale":{"domain":[1.17764,1.34585],"nice":false,"zero":false},
"axis":{"orient":"right","title":null,"zindex":0,"domain":false,"grid":false,"ticks":true,"tickSize":4,"tickColor":"#ffffff","labels":true,"labelColor":"#ffffff","labelFont":"Liberation Sans","labelFontSize":9,"labelPadding":2,"values":[1.3405,1.3315,1.3225,1.3135,1.3045,1.2955,1.2865,1.2775,1.2685,1.2595,1.2505,1.2415,1.2325,1.2235,1.2145,1.2055,1.1965,1.1875,1.1785],"format":".4f","labelOverlap":false,"labelFlush":false}},
"y2":{"field":"h"},"color":{"condition":{"test":"datum.c > datum.o","value":"#ff0000"},"value":"#00ff00"}}},
{"data":{"name":"hl"},"mark":{"type":"rule","color":"#ff0000","strokeWidth":1,"strokeDash":[10,5,3,6]},
"encoding":{"y":{"field":"p","type":"quantitative","axis":null}}},
{"data":{"values":[{"p":1.294}]},"mark":{"type":"rule","color":"#a0a4a8","strokeWidth":1},"encoding":{"y":{"field":"p","type":"quantitative","axis":null}}},
{"data":{"name":"tl"},"mark":{"type":"line","color":"#ffff00","strokeWidth":1,"strokeDash":[9,6,2,7],"clip":true},
"encoding":{"x":{"field":"i","type":"quantitative","axis":null},"y":{"field":"p","type":"quantitative","axis":null},"detail":{"field":"id","type":"nominal"}}},
{"data":{"name":"bands"},"mark":{"type":"line","strokeWidth":1,"clip":true},
"encoding":{"x":{"field":"i","type":"quantitative","axis":null},"y":{"field":"p","type":"quantitative","axis":null},"color":{"field":"s","type":"nominal","scale":{"domain":["ub","mid","lb","ma"],"range":["#ffffff","#ffffff","#ffffff","#00e0e8"]},"legend":null}}},
{"data":{"name":"bars"},"mark":{"type":"rule","strokeWidth":1,"clip":true},
"encoding":{"x":{"field":"i","type":"quantitative","axis":null},"y":{"field":"l","type":"quantitative","axis":null},"y2":{"field":"h"},"color":{"condition":{"test":"datum.c > datum.o","value":"#ff0000"},"value":"#00ff00"}}},
{"data":{"name":"bars"},"mark":{"type":"bar","width":2,"strokeWidth":1,"clip":true},
"encoding":{"x":{"field":"i","type":"quantitative","axis":null},"y":{"field":"o","type":"quantitative","axis":null},"y2":{"field":"c"},
"fill":{"condition":{"test":"datum.c > datum.o","value":"#000000"},"value":"#c0ff40"},
"stroke":{"condition":{"test":"datum.c > datum.o","value":"#ff0000"},"value":"#00ff00"}}},
{"data":{"name":"mk"},"mark":{"type":"point","shape":"square","size":12,"filled":true,"color":"#ffffff","opacity":1,"strokeWidth":0},
"encoding":{"x":{"field":"i","type":"quantitative","axis":null},"y":{"field":"p","type":"quantitative","axis":null}}},
{"data":{"name":"arr"},"mark":{"type":"text","font":"DejaVu Sans","fontSize":17,"align":"center","baseline":"middle"},
"encoding":{"x":{"field":"i","type":"quantitative","axis":null},"y":{"field":"p","type":"quantitative","axis":null},
"text":{"condition":{"test":"datum.d == 'up'","value":"⇧"},"value":"⇩"},
"color":{"field":"g","type":"nominal","scale":{"domain":["w","c"],"range":["#e0e0e0","#00ffff"]},"legend":null}}},
{"data":{"name":"ttl"},"mark":{"type":"text","align":"left","baseline":"middle","color":"#ffffff"},
"encoding":{"x":{"datum":0.8,"axis":null},"y":{"datum":1.34304,"axis":null},"text":{"field":"t"}}},
{"data":{"name":"lv"},"mark":{"type":"point","shape":"M-1,-0.353H1V0.353H-1Z","size":1156,"filled":true,"opacity":1,"strokeWidth":0},
"encoding":{"x":{"datum":313.125,"axis":null},"y":{"field":"p","type":"quantitative","axis":null},
"color":{"condition":{"test":"datum.p == 1.294","value":"#ffffff"},"value":"#ff0000"}}},
{"data":{"name":"lv"},"mark":{"type":"text","align":"center","baseline":"middle","fontSize":9},
"encoding":{"x":{"datum":313.125,"axis":null},"y":{"field":"p","type":"quantitative","axis":null},"text":{"field":"p","type":"quantitative","format":".4f"},
"color":{"condition":{"test":"datum.p == 1.294","value":"#000000"},"value":"#ffffff"}}}
]},
{"width":1234,"height":167,
"resolve":{"axis":{"x":"independent","y":"independent"}},
"layer":[
{"data":{"name":"bars"},"mark":{"type":"rule","color":"#55bb55","strokeWidth":1},
"encoding":{"x":{"field":"i","type":"quantitative","scale":{"domain":[-0.375,308.125],"nice":false,"zero":false},
"axis":{"orient":"bottom","title":null,"zindex":1,"domain":false,"grid":false,"ticks":true,"tickColor":"#ffffff","labels":true,"labelColor":"#ffffff","labelFont":"Liberation Sans","labelFontSize":9,"values":[0,16,32,48,64,80,96,112,128,144,160,176,192,208,224,240],"labelExpr":"['6 Feb 2006','28 Feb 2006','22 Mar 2006','13 Apr 2006','5 May 2006','29 May 2006','20 Jun 2006','12 Jul 2006','3 Aug 2006','25 Aug 2006','18 Sep 2006','10 Oct 2006','1 Nov 2006','23 Nov 2006','15 Dec 2006','10 Jan 2007'][round(datum.value/16)]","labelAlign":"left","labelDx":-1,"tickSize":3,"labelPadding":2,"labelBaseline":"top","labelFlush":false,"labelOverlap":false}},
"y":{"field":"m","type":"quantitative","scale":{"domain":[-0.00731,0.02001],"nice":false,"zero":false},
"axis":{"orient":"right","title":null,"zindex":1,"domain":false,"grid":false,"ticks":true,"tickSize":4,"tickColor":"#ffffff","labels":true,"labelColor":"#ffffff","labelFont":"Liberation Sans","labelFontSize":9,"labelPadding":1,"values":[0.01837,0,-0.00681],"labelExpr":"datum.value == 0 ? '0.00' : (datum.value < 0 ? '-0.00681' : '0.01837')","labelOffset":{"condition":{"test":"datum.value < 0","value":-7},"value":0},"labelOverlap":false,"labelFlush":false}},
"y2":{"datum":0}}},
{"data":{"name":"sig"},"mark":{"type":"line","color":"#ff0000","strokeWidth":1,"strokeDash":[2,2]},
"encoding":{"x":{"field":"i","type":"quantitative","axis":null},"y":{"field":"s","type":"quantitative","axis":null}}},
{"data":{"name":"mt"},"mark":{"type":"text","align":"left","baseline":"middle","color":"#ffffff"},
"encoding":{"x":{"datum":0.8,"axis":null},"y":{"datum":0.01837,"axis":null},"text":{"field":"t"}}},
{"data":{"name":"cp"},"mark":{"type":"text","align":"left","baseline":"middle","color":"#ffffff"},
"encoding":{"x":{"datum":0.6,"axis":null},"y":{"datum":-0.00589,"axis":null},"text":{"field":"t"}}}
]}
]
}
